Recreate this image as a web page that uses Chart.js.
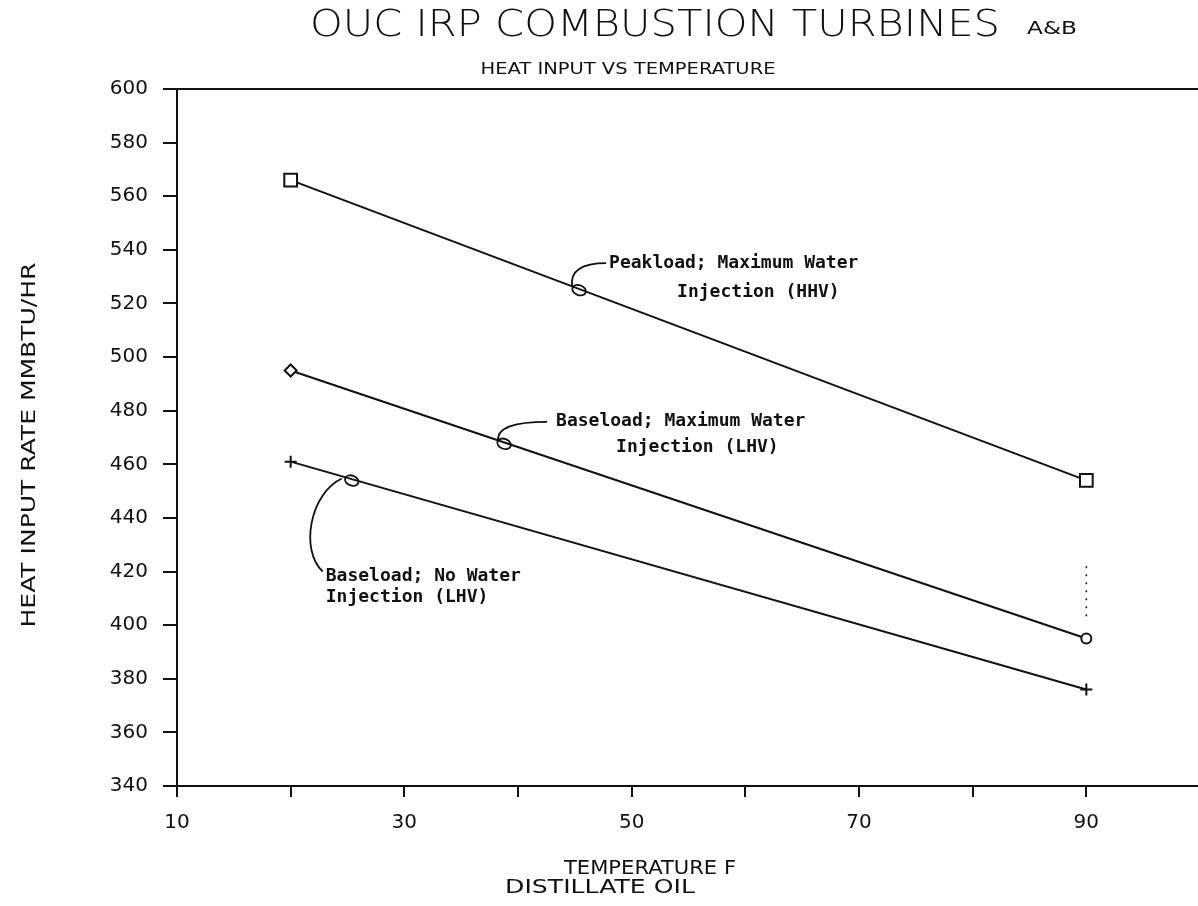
<!DOCTYPE html>
<html>
<head>
<meta charset="utf-8">
<script src="https://cdn.jsdelivr.net/npm/chart.js@4.4.0/dist/chart.umd.min.js"></script>
<style>
  html, body { margin: 0; padding: 0; background: #fff; overflow: hidden; }
  #wrap { width: 1198px; height: 906px; overflow: hidden; }
  canvas { display: block; }
</style>
</head>
<body>
<div id="wrap"><canvas id="chart" width="1214" height="906"></canvas></div>
<script>
// values (temperature F, MMBTU/HR)
const temperatures = [20, 90];
const peakload = [566, 454];
const baseloadMaxWater = [495, 395];
const baseloadNoWater = [461, 376];
// short dotted mark drawn above the 90F baseload point
const checkX = [90, 90];
const checkY = [422, 402];

const xTicks = [10, 20, 30, 40, 50, 60, 70, 80, 90, 100];
const xLabelled = [10, 30, 50, 70, 90];

// callout labels and where they touch their line
const noteLines = [
  ['Peakload; Maximum Water', 'Injection (HHV)'],
  ['Baseload; Maximum Water', 'Injection (LHV)'],
  ['Baseload; No Water', 'Injection (LHV)']
];
const noteAnchorX = [45.2, 38.6, 25.2];
const noteAnchorY = [525.7, 468.4, 454.7];

const ink = '#111';

function pts(xs, ys) {
  return xs.map((x, i) => ({ x: x, y: ys[i] }));
}

// draw text centred at (cx, cy), squeezed/stretched to a given width
function fitText(ctx, text, cx, cy, width, font) {
  ctx.save();
  ctx.font = font;
  ctx.textAlign = 'center';
  ctx.textBaseline = 'middle';
  const w = ctx.measureText(text).width;
  ctx.translate(cx, cy);
  ctx.scale(width / w, 1);
  ctx.fillText(text, 0, 0);
  ctx.restore();
}

const textPlugin = {
  id: 'plotText',
  afterDraw(chart) {
    const ctx = chart.ctx;
    const area = chart.chartArea;
    const xs = chart.scales.x;
    const ys = chart.scales.y;
    ctx.save();
    ctx.fillStyle = ink;
    ctx.strokeStyle = ink;

    // frame
    ctx.lineWidth = 2;
    ctx.strokeRect(area.left, area.top, area.right - area.left, area.bottom - area.top);

    // titles
    fitText(ctx, 'OUC IRP COMBUSTION TURBINES', 655, 26, 690, '200 37px "DejaVu Sans"');
    fitText(ctx, 'A&B', 1052, 30, 50, '17px "DejaVu Sans"');
    fitText(ctx, 'HEAT INPUT VS TEMPERATURE', 628, 70, 295, '16px "DejaVu Sans"');
    fitText(ctx, 'TEMPERATURE F', 650, 869, 172, '19px "DejaVu Sans"');
    fitText(ctx, 'DISTILLATE OIL', 600, 888, 190, '19px "DejaVu Sans"');

    ctx.save();
    ctx.translate(30, 445);
    ctx.rotate(-Math.PI / 2);
    fitText(ctx, 'HEAT INPUT RATE MMBTU/HR', 0, 0, 365, '19px "DejaVu Sans"');
    ctx.restore();

    // callouts
    ctx.font = 'bold 18px "DejaVu Sans Mono"';
    ctx.textAlign = 'left';
    ctx.textBaseline = 'middle';
    ctx.lineWidth = 1.8;
    noteLines.forEach((lines, i) => {
      const ax = xs.getPixelForValue(noteAnchorX[i]);
      const ay = ys.getPixelForValue(noteAnchorY[i]);
      ctx.beginPath();
      ctx.ellipse(ax + 2, ay + 2, 7, 5, 0.35, 0, Math.PI * 2);
      ctx.stroke();
      ctx.beginPath();
      if (i === 0) {
        ctx.moveTo(ax - 5, ay - 2);
        ctx.quadraticCurveTo(ax - 8, ay - 25, ax + 29, ay - 25);
        ctx.stroke();
        ctx.fillText(lines[0], ax + 32, ay - 25);
        ctx.fillText(lines[1], ax + 100, ay + 4);
      } else if (i === 1) {
        ctx.moveTo(ax - 4, ay - 2);
        ctx.quadraticCurveTo(ax - 5, ay - 20, ax + 45, ay - 20);
        ctx.stroke();
        ctx.fillText(lines[0], ax + 54, ay - 20);
        ctx.fillText(lines[1], ax + 114, ay + 6);
      } else {
        ctx.moveTo(ax - 8, ay);
        ctx.bezierCurveTo(ax - 40, ay + 15, ax - 50, ay + 72, ax - 27, ay + 93);
        ctx.stroke();
        ctx.fillText(lines[0], ax - 24, ay + 98);
        ctx.fillText(lines[1], ax - 24, ay + 119);
      }
    });
    ctx.restore();
  }
};

const lineStyle = {
  showLine: true,
  borderColor: ink,
  borderWidth: 2,
  pointBorderColor: ink,
  pointBackgroundColor: '#fff',
  pointBorderWidth: 2
};

new Chart(document.getElementById('chart').getContext('2d'), {
  type: 'scatter',
  data: {
    datasets: [
      Object.assign({ label: 'Peakload; Maximum Water Injection (HHV)', data: pts(temperatures, peakload),
        pointStyle: 'rect', pointRadius: 9 }, lineStyle),
      Object.assign({ label: 'Baseload; Maximum Water Injection (LHV)', data: pts(temperatures, baseloadMaxWater),
        pointStyle: ['rectRot', 'circle'], pointRadius: [6, 5] }, lineStyle),
      Object.assign({ label: 'Baseload; No Water Injection (LHV)', data: pts(temperatures, baseloadNoWater),
        pointStyle: 'cross', pointRadius: 6 }, lineStyle),
      { label: 'check', data: pts(checkX, checkY), showLine: true, borderColor: ink,
        borderWidth: 1.5, borderDash: [2, 6], pointRadius: 0 }
    ]
  },
  options: {
    responsive: false,
    animation: false,
    devicePixelRatio: 1,
    layout: { padding: { top: 89, right: 10, left: 0, bottom: 0 } },
    plugins: { legend: { display: false }, tooltip: { enabled: false } },
    scales: {
      x: {
        type: 'linear',
        min: 10,
        max: 100,
        afterBuildTicks: (scale) => { scale.ticks = xTicks.map(v => ({ value: v })); },
        afterFit: (scale) => { scale.height = 120; },
        ticks: {
          autoSkip: false,
          maxRotation: 0,
          padding: 14,
          color: ink,
          font: { family: 'DejaVu Sans', size: 20 },
          callback: (v) => xLabelled.includes(v) ? String(v) : ''
        },
        grid: { drawOnChartArea: false, drawTicks: true, tickLength: 11, color: ink, lineWidth: 2 },
        border: { display: true, color: ink, width: 2 }
      },
      y: {
        min: 340,
        max: 600,
        afterFit: (scale) => { scale.width = 177; },
        ticks: {
          stepSize: 20,
          padding: 15,
          color: ink,
          font: { family: 'DejaVu Sans', size: 20 }
        },
        grid: { drawOnChartArea: false, drawTicks: true, tickLength: 14, color: ink, lineWidth: 2 },
        border: { display: true, color: ink, width: 2 }
      }
    }
  },
  plugins: [textPlugin]
});
</script>
</body>
</html>
